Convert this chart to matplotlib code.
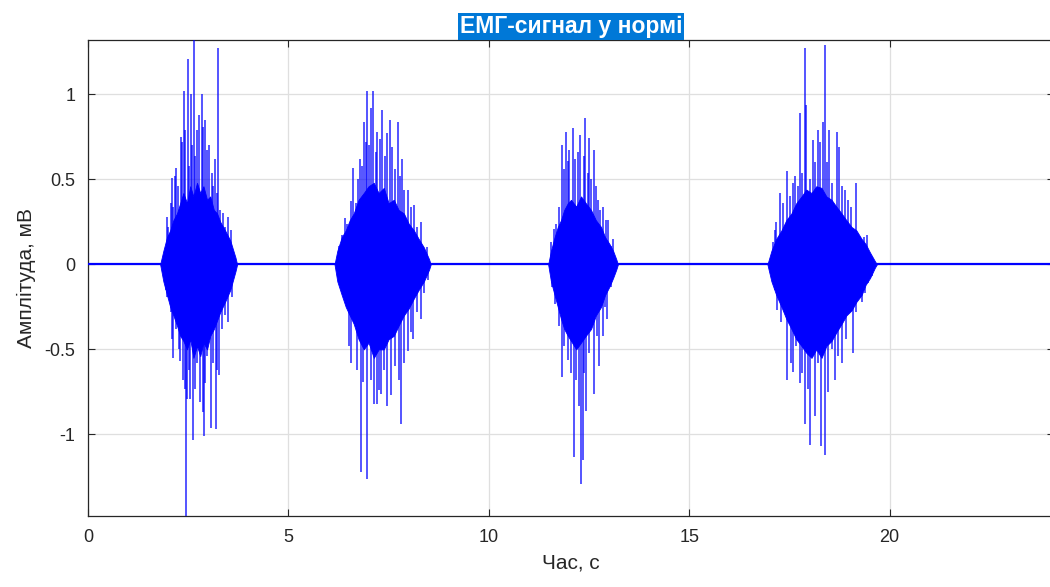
import matplotlib

matplotlib.use("Agg")
import matplotlib.pyplot as plt

plt.rcParams["font.family"] = ["Liberation Sans", "DejaVu Sans"]

# time axis in seconds, amplitude in mV
baseline_t = [0.0, 24.05]
baseline_v = [0.0, 0.0]

# dense core of each burst: time, upper and lower envelope (jagged edge)
core1_t = [1.80, 1.88, 1.97, 2.05, 2.13, 2.22, 2.30, 2.38, 2.47, 2.55, 2.63, 2.72,
           2.80, 2.88, 2.97, 3.05, 3.14, 3.22, 3.30, 3.42, 3.55, 3.68, 3.72]
core1_hi = [0.0, 0.08, 0.16, 0.20, 0.26, 0.30, 0.36, 0.42, 0.36, 0.46, 0.40, 0.48,
            0.42, 0.46, 0.38, 0.40, 0.32, 0.30, 0.25, 0.20, 0.14, 0.04, 0.0]
core1_lo = [0.0, -0.10, -0.18, -0.25, -0.30, -0.36, -0.42, -0.45, -0.50, -0.44, -0.55,
            -0.48, -0.54, -0.46, -0.50, -0.42, -0.38, -0.33, -0.28, -0.22, -0.15, -0.04, 0.0]

core2_t = [6.15, 6.22, 6.33, 6.43, 6.53, 6.63, 6.75, 6.88, 7.00, 7.13, 7.25, 7.38,
           7.50, 7.63, 7.75, 7.88, 8.00, 8.13, 8.25, 8.38, 8.51, 8.55]
core2_hi = [0.0, 0.08, 0.16, 0.20, 0.26, 0.30, 0.38, 0.42, 0.46, 0.48, 0.42, 0.45,
            0.36, 0.38, 0.32, 0.30, 0.24, 0.20, 0.15, 0.10, 0.03, 0.0]
core2_lo = [0.0, -0.10, -0.18, -0.25, -0.30, -0.35, -0.44, -0.50, -0.46, -0.55, -0.50,
            -0.50, -0.44, -0.42, -0.36, -0.30, -0.26, -0.20, -0.15, -0.10, -0.03, 0.0]

core3_t = [11.48, 11.55, 11.64, 11.72, 11.80, 11.88, 11.97, 12.05, 12.18, 12.30, 12.42,
           12.55, 12.67, 12.80, 12.90, 13.01, 13.10, 13.18, 13.22]
core3_hi = [0.0, 0.08, 0.16, 0.22, 0.26, 0.32, 0.36, 0.38, 0.34, 0.40, 0.36, 0.32, 0.26,
            0.22, 0.16, 0.12, 0.08, 0.03, 0.0]
core3_lo = [0.0, -0.10, -0.18, -0.25, -0.32, -0.38, -0.42, -0.45, -0.50, -0.46, -0.42,
            -0.38, -0.30, -0.25, -0.18, -0.13, -0.08, -0.03, 0.0]

core4_t = [16.95, 17.05, 17.17, 17.30, 17.42, 17.55, 17.67, 17.80, 17.92, 18.05, 18.17,
           18.30, 18.42, 18.55, 18.67, 18.80, 18.92, 19.05, 19.17, 19.30, 19.40, 19.51,
           19.63, 19.68]
core4_hi = [0.0, 0.08, 0.15, 0.20, 0.26, 0.30, 0.36, 0.40, 0.44, 0.42, 0.46, 0.45, 0.40,
            0.38, 0.34, 0.30, 0.26, 0.22, 0.20, 0.15, 0.12, 0.07, 0.02, 0.0]
core4_lo = [0.0, -0.10, -0.18, -0.25, -0.32, -0.38, -0.44, -0.48, -0.52, -0.55, -0.50,
            -0.55, -0.48, -0.45, -0.40, -0.35, -0.30, -0.27, -0.22, -0.18, -0.12, -0.08,
            -0.02, 0.0]

# single spikes standing out of the core: time, peak value
spike1_t = [2.65, 2.49, 3.24, 2.57, 2.84, 2.40, 2.78, 2.93, 2.32, 3.03, 3.18, 2.10, 2.20,
            3.38, 3.49, 1.97, 3.57, 2.13, 2.24, 2.34, 2.43, 2.53, 2.59, 2.68, 2.73, 2.87,
            2.97, 3.09, 3.13, 3.22, 3.30, 3.43, 2.00, 2.07, 2.17,
            2.45, 2.63, 2.90, 3.20, 3.07, 2.47, 2.86, 2.55, 2.13, 2.30, 3.27, 3.49, 3.60,
            1.94, 2.07, 1.97, 2.09, 2.20, 2.26, 2.37, 2.43, 2.53, 2.68, 2.73, 2.80, 2.93,
            2.97, 3.13, 3.23, 3.34, 3.43, 3.55]
spike1_v = [1.32, 1.21, 1.27, 1.00, 1.00, 1.02, 0.88, 0.85, 0.75, 0.70, 0.62, 0.51, 0.57,
            0.30, 0.28, 0.28, 0.20, 0.34, 0.46, 0.72, 0.79, 0.58, 0.70, 0.64, 0.79, 0.81,
            0.67, 0.54, 0.46, 0.42, 0.32, 0.22, 0.22, 0.36, 0.52,
            -1.48, -1.03, -1.01, -0.97, -0.96, -0.79, -0.87, -0.79, -0.55, -0.57, -0.65,
            -0.34, -0.19, -0.15, -0.28, -0.19, -0.44, -0.38, -0.50, -0.68, -0.73, -0.62,
            -0.73, -0.58, -0.81, -0.70, -0.54, -0.58, -0.62, -0.38, -0.30, -0.13]

spike2_t = [6.97, 7.12, 7.05, 6.88, 7.34, 7.53, 7.73, 6.78, 6.62, 7.22, 7.59, 7.83, 7.98,
            8.13, 8.30, 6.57, 6.41, 6.30, 8.45, 6.34, 6.47, 6.68, 6.73, 6.84, 6.93, 7.01,
            7.18, 7.28, 7.40, 7.47, 7.65, 7.78, 7.88, 8.05, 8.22, 6.26,
            6.97, 6.80, 7.80, 7.14, 7.20, 7.45, 7.30, 6.87, 7.76, 6.55, 7.98, 8.12, 8.30,
            6.43, 8.38, 6.30, 6.51, 6.63, 6.72, 7.05, 7.26, 7.38, 7.55, 7.65, 7.88, 8.05,
            8.22, 8.47]
spike2_v = [1.02, 1.02, 0.92, 0.84, 0.91, 0.85, 0.84, 0.62, 0.57, 0.78, 0.69, 0.62, 0.44,
            0.35, 0.25, 0.37, 0.27, 0.12, 0.10, 0.17, 0.24, 0.36, 0.50, 0.58, 0.72, 0.70,
            0.66, 0.74, 0.64, 0.77, 0.56, 0.52, 0.44, 0.34, 0.22, 0.11,
            -1.26, -1.22, -0.94, -0.82, -0.82, -0.83, -0.76, -0.69, -0.68, -0.58, -0.51,
            -0.44, -0.32, -0.19, -0.17, -0.13, -0.48, -0.32, -0.62, -0.68, -0.74, -0.62,
            -0.77, -0.60, -0.58, -0.40, -0.28, -0.09]

spike3_t = [12.41, 11.93, 12.09, 12.28, 12.51, 11.82, 12.22, 12.62, 12.01, 12.72, 12.84,
            12.98, 11.68, 11.55, 13.11, 11.62, 11.76, 11.87, 11.97, 12.15, 12.37, 12.47,
            12.55, 12.68, 12.78, 12.92, 13.05,
            12.30, 12.12, 12.34, 12.26, 12.43, 12.63, 12.05, 11.82, 12.74, 12.84, 12.95,
            11.65, 11.57, 11.68, 11.76, 11.88, 11.97, 12.17, 12.38, 12.51, 12.70, 12.90,
            13.05]
spike3_v = [0.86, 0.78, 0.80, 0.76, 0.745, 0.70, 0.66, 0.67, 0.67, 0.38, 0.34,
            0.26, 0.24, 0.13, 0.15, 0.21, 0.34, 0.56, 0.61, 0.62, 0.64, 0.54,
            0.50, 0.46, 0.32, 0.26, 0.11,
            -1.29, -1.13, -1.15, -0.83, -0.86, -0.76, -0.64, -0.66, -0.60, -0.42, -0.32,
            -0.23, -0.13, -0.17, -0.36, -0.48, -0.56, -0.68, -0.64, -0.52, -0.42, -0.25,
            -0.13]

spike4_t = [18.38, 17.90, 17.92, 17.76, 18.34, 18.22, 18.48, 18.09, 18.68, 18.73, 17.45,
            17.59, 19.17, 18.95, 17.27, 17.17, 19.43, 17.09, 17.13, 17.34, 17.51, 17.63,
            17.72, 17.82, 18.01, 18.13, 18.26, 18.43, 18.55, 18.80, 18.88, 19.03, 19.26,
            19.37,
            18.39, 18.28, 18.02, 17.88, 17.45, 18.13, 18.47, 18.63, 17.76, 17.59, 18.80,
            19.09, 17.20, 19.30, 19.47, 17.13, 17.30, 17.53, 17.66, 17.82, 17.97, 18.20,
            18.55, 18.72, 18.92, 19.17, 19.38, 19.55]
spike4_v = [1.29, 1.27, 0.94, 0.89, 0.84, 0.79, 0.79, 0.73, 0.78, 0.69, 0.55,
            0.48, 0.48, 0.38, 0.42, 0.25, 0.17, 0.13, 0.20, 0.36, 0.40, 0.52,
            0.46, 0.54, 0.50, 0.60, 0.72, 0.60, 0.48, 0.46, 0.44, 0.34, 0.16,
            0.16,
            -1.12, -1.07, -1.06, -0.94, -0.68, -0.89, -0.75, -0.68, -0.70, -0.63, -0.58,
            -0.52, -0.27, -0.22, -0.11, -0.15, -0.34, -0.58, -0.48, -0.64, -0.73, -0.58,
            -0.50, -0.54, -0.44, -0.28, -0.17, -0.07]

x_ticks = [0, 5, 10, 15, 20]
y_ticks = [-1, -0.5, 0, 0.5, 1]
y_tick_labels = ["-1", "-0.5", "0", "0.5", "1"]

BLUE = "#0000ff"
AX_COL = "#262626"

fig = plt.figure(figsize=(10.5, 5.87), dpi=100)
ax = fig.add_axes([88 / 1050, 71 / 587, 966 / 1050, 476 / 587])

ax.plot(baseline_t, baseline_v, color=BLUE, lw=1.6, zorder=3)
for ct, hi, lo in [(core1_t, core1_hi, core1_lo), (core2_t, core2_hi, core2_lo),
                   (core3_t, core3_hi, core3_lo), (core4_t, core4_hi, core4_lo)]:
    ax.fill_between(ct, lo, hi, color=BLUE, lw=0.6, zorder=3)
for st, sv in [(spike1_t, spike1_v), (spike2_t, spike2_v),
               (spike3_t, spike3_v), (spike4_t, spike4_v)]:
    ax.vlines(st, 0, sv, color=BLUE, lw=1.1, alpha=0.85, zorder=3)

ax.set_xlim(0, 24.1)
ax.set_ylim(-1.48, 1.32)
ax.set_xticks(x_ticks)
ax.set_yticks(y_ticks)
ax.set_yticklabels(y_tick_labels)
ax.grid(True, color="#dfdfdf", lw=0.9)
ax.set_axisbelow(True)
ax.tick_params(direction="in", length=5, width=0.8, colors=AX_COL,
               labelsize=13, pad=9, top=True, right=True)
for s in ax.spines.values():
    s.set_color(AX_COL)
    s.set_linewidth(0.9)

ax.set_xlabel("Час, с", fontsize=15, color=AX_COL, labelpad=6)
ax.set_ylabel("Амплітуда, мВ", fontsize=15, color=AX_COL, labelpad=6)
ax.set_title("ЕМГ-сигнал у нормі", fontsize=16.5, fontweight="bold", color="white",
             pad=5, bbox=dict(boxstyle="square,pad=0.08", fc="#0078d7", ec="none"))

fig.savefig("out.png", dpi=100)
